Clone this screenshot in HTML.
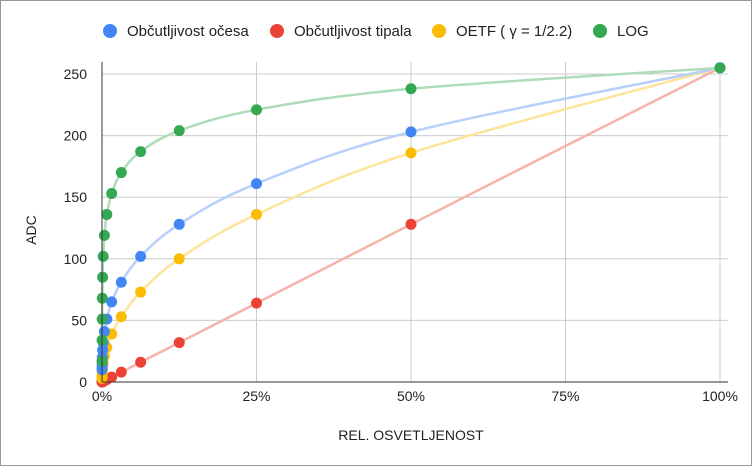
<!DOCTYPE html>
<html><head><meta charset="utf-8"><style>
body{margin:0;background:#fff}
svg{display:block;font-family:"Liberation Sans",sans-serif}
</style></head><body>
<svg id="c" width="752" height="466">
<rect x="0.5" y="0.5" width="751" height="465" fill="#fff" stroke="#999"/>
<g id="grid"></g><g id="series"></g><g id="axes"></g><g id="legend"></g>
</svg>
<script>
const xs=[1,0.5,0.25,0.125,0.0625,0.03125,0.015625,0.0078125,0.00390625,0.001953,0.000977,0.000488,0.000244,0.000122,0.000061];
const eyeVals=[255,203,161,128,102,81,65,51,41,32,26,20,16,13,10];
const sensorVals=[255,128,64,32,16,8,4,2,1,0.5,0.25,0.12,0.06,0.03,0.02];
const oetfVals=[255,186,136,100,73,53,39,28,21,15,11,8,6,4,3];
const logVals=[255,238,221,204,187,170,153,136,119,102,85,68,51,34,17];
const seriesNames=["Občutljivost očesa","Občutljivost tipala","OETF ( γ = 1/2.2)","LOG"];
const xTicks=[0,25,50,75,100];
const yTicks=[0,50,100,150,200,250];
const colors=["#4285f4","#ea4335","#fbbc04","#34a853"];
const lineColors=["#b7cffa","#f5b3ac","#fde49a","#aedcb9"];
const NS="http://www.w3.org/2000/svg";
const X=v=>102+v*618, Y=v=>382-v*1.232;
function mk(t,a,p){const e=document.createElementNS(NS,t);for(const k in a)e.setAttribute(k,a[k]);p.appendChild(e);return e;}
const grid=document.getElementById('grid'),axes=document.getElementById('axes'),ser=document.getElementById('series'),leg=document.getElementById('legend');
yTicks.forEach(t=>{
 if(t>0){const l=mk('line',{x1:102,x2:728,y1:Y(t),y2:Y(t),stroke:'#ccc'},grid);
 
 }
 const tx=mk('text',{x:87,y:Y(t)+5,'text-anchor':'end','font-size':14,fill:'#222'},axes);tx.textContent=t;
 
 
});
xTicks.forEach(t=>{
 if(t>0){const l=mk('line',{x1:X(t/100),x2:X(t/100),y1:62,y2:382,stroke:'#ccc'},grid);
 
 }
 const tx=mk('text',{x:X(t/100),y:401,'text-anchor':'middle','font-size':14,fill:'#222'},axes);tx.textContent=t+'%';
 
 
});
const ax=mk('line',{x1:102,x2:102,y1:62,y2:382,stroke:'#333'},axes);


const bx=mk('line',{x1:102,x2:728,y1:382,y2:382,stroke:'#333'},axes);


const xt=mk('text',{x:411,y:440,'text-anchor':'middle','font-size':14,fill:'#222'},axes);xt.textContent='REL. OSVETLJENOST';


const yt=mk('text',{x:36,y:230,'text-anchor':'middle','font-size':14,fill:'#222',transform:'rotate(-90 36 230)'},axes);yt.textContent='ADC';


const all=[eyeVals,sensorVals,oetfVals,logVals];
const order=[1,2,0,3];
function smooth(p){
 let d='M'+p[0][0]+','+p[0][1];
 for(let i=0;i<p.length-1;i++){
  const p0=p[i-1]||p[i],p1=p[i],p2=p[i+1],p3=p[i+2]||p2;
  const c1=[p1[0]+(p2[0]-p0[0])/6,p1[1]+(p2[1]-p0[1])/6];
  const c2=[p2[0]-(p3[0]-p1[0])/6,p2[1]-(p3[1]-p1[1])/6];
  d+=' C'+c1+' '+c2+' '+p2;
 }
 return d;
}
order.forEach(i=>{
 const vals=all[i];
 const p=xs.map((x,j)=>[X(x),Y(vals[j])]).reverse();
 const pl=mk('path',{d:smooth(p),fill:'none',stroke:lineColors[i],'stroke-width':2.5},ser);
 
 
});
order.forEach(i=>{
 const vals=all[i];
 xs.forEach((x,j)=>{
  const c=mk('circle',{cx:X(x),cy:Y(vals[j]),r:5.5,fill:colors[i]},ser);
  
  
 });
});
const lx=[110,277,439,600];
seriesNames.forEach((n,i)=>{
 const g=mk('g',{},leg);
 
 
 mk('circle',{cx:lx[i],cy:31,r:7,fill:colors[i]},g);
 const t=mk('text',{x:lx[i]+17,y:36,'font-size':15,fill:'#222'},g);t.textContent=n;
});
</script>
</body></html>
